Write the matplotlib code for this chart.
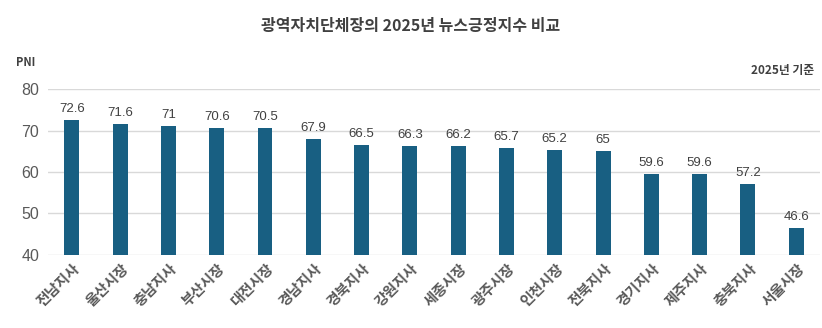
import matplotlib.pyplot as plt

plt.rcParams['font.family'] = ['Noto Sans CJK KR', 'DejaVu Sans']

# 광역자치단체장별 2025년 뉴스긍정지수(PNI)
names = ['전남지사', '울산시장', '충남지사', '부산시장', '대전시장', '경남지사', '경북지사', '강원지사',
         '세종시장', '광주시장', '인천시장', '전북지사', '경기지사', '제주지사', '충북지사', '서울시장']
pni = [72.6, 71.6, 71, 70.6, 70.5, 67.9, 66.5, 66.3, 66.2, 65.7, 65.2, 65, 59.6, 59.6, 57.2, 46.6]
yticks = [40, 50, 60, 70, 80]

fig = plt.figure(figsize=(8.22, 3.28), dpi=100)
ax = fig.add_axes([0.058, 0.2226, 0.94, 0.506])

x = range(len(names))
ax.bar(x, pni, width=0.31, color='#185F82', zorder=3)
for i, v in enumerate(pni):
    ax.text(i, v + 1.2, f'{v:g}', ha='center', va='bottom', fontsize=9.5,
            family='Liberation Sans', color='#404040')

ax.set_ylim(40, 80)
ax.set_xlim(-0.5, len(names) - 0.5)
ax.set_yticks(yticks)
ax.grid(axis='y', color='#d9d9d9', linewidth=1, zorder=0)
for s in ax.spines.values():
    s.set_visible(False)
ax.tick_params(axis='both', length=0)
ax.tick_params(axis='y', labelsize=11.5, labelcolor='#595959', pad=6)
for lbl in ax.get_yticklabels():
    lbl.set_family('Liberation Sans')
ax.set_xticks(list(x))
ax.set_xticklabels(names, rotation=45, ha='right', rotation_mode='anchor',
                   fontsize=10.5, fontweight='bold', color='#595959')

fig.text(0.5, 0.92, '광역자치단체장의 2025년 뉴스긍정지수 비교', ha='center', va='center',
         fontsize=11.5, fontweight='bold', color='#404040')
fig.text(0.02, 0.81, 'PNI', ha='left', va='center', fontsize=8, fontweight='bold', color='#404040')
fig.text(0.99, 0.785, '2025년 기준', ha='right', va='center', fontsize=8.5, fontweight='bold', color='#404040')

fig.savefig('out.png', dpi=100)
